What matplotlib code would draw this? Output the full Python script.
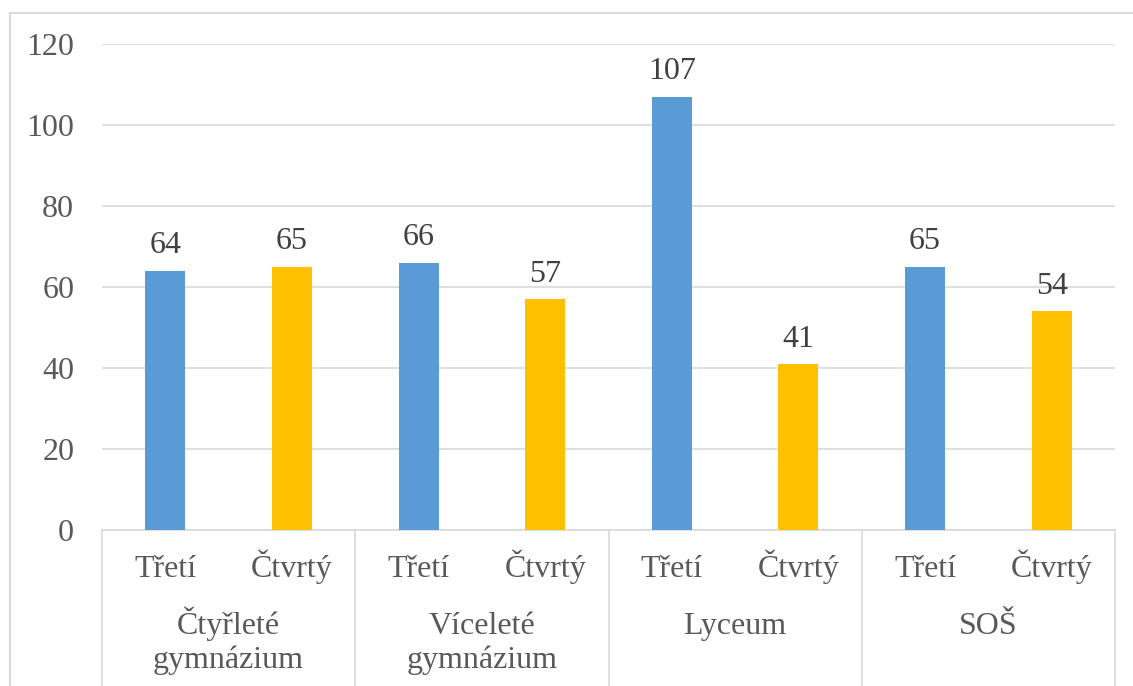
import matplotlib.pyplot as plt
from matplotlib.patches import Rectangle

groups = ["Čtyřleté\ngymnázium", "Víceleté\ngymnázium", "Lyceum", "SOŠ"]
years = ["Třetí", "Čtvrtý"]
values = [64, 65, 66, 57, 107, 41, 65, 54]
colors = ["#5B9BD5", "#FFC000"]

plt.rcParams["font.family"] = ["Liberation Serif", "DejaVu Serif"]
FS = 23

W, H = 1133, 686
fig = plt.figure(figsize=(W / 100, H / 100), dpi=100)
ax = fig.add_axes([102 / W, 1 - 530 / H, (1115 - 102) / W, (530 - 44) / H])
axh = 530 - 44  # axes height in px

n = len(values)
xs = list(range(n))
bar_colors = [colors[i % 2] for i in range(n)]
ax.bar(xs, values, width=0.316, color=bar_colors, zorder=3)
for x, v in zip(xs, values):
    ax.annotate(str(v), (x, v), xytext=(0, 12.5), textcoords="offset points",
                ha="center", va="baseline", fontsize=FS, color="#404040")

ax.set_xlim(-0.5, n - 0.5)
ax.set_ylim(0, 120)
ax.set_yticks(range(0, 121, 20))
ax.tick_params(axis="y", length=0, pad=20, labelsize=FS, labelcolor="#595959")
ax.set_xticks([])
ax.grid(axis="y", color="#D9D9D9", linewidth=1.2, zorder=0)
for s in ["top", "right", "left"]:
    ax.spines[s].set_visible(False)
ax.spines["bottom"].set_color("#D9D9D9")
ax.spines["bottom"].set_linewidth(1.2)

trans = ax.get_xaxis_transform()
# year labels
for i in range(n):
    ax.text(i, -47 / axh, years[i % 2], transform=trans, ha="center", va="baseline",
            fontsize=FS, color="#595959")
# group labels, one text per line, first line aligned across groups
for g, name in enumerate(groups):
    for k, line in enumerate(name.split("\n")):
        ax.text(2 * g + 0.5, -(104 + 34 * k) / axh, line, transform=trans, ha="center",
                va="baseline", fontsize=FS, color="#595959")
# separators
for g in range(len(groups) + 1):
    ax.plot([2 * g - 0.5, 2 * g - 0.5], [0, -0.35], transform=trans, color="#D9D9D9",
            linewidth=1.2, clip_on=False)

# outer chart border
fig.patches.append(Rectangle((10 / W, -0.1), 1.2, 1 - 13 / H + 0.1, transform=fig.transFigure,
                             fill=False, edgecolor="#D9D9D9", linewidth=1.5))

fig.savefig("out.png", dpi=100)
